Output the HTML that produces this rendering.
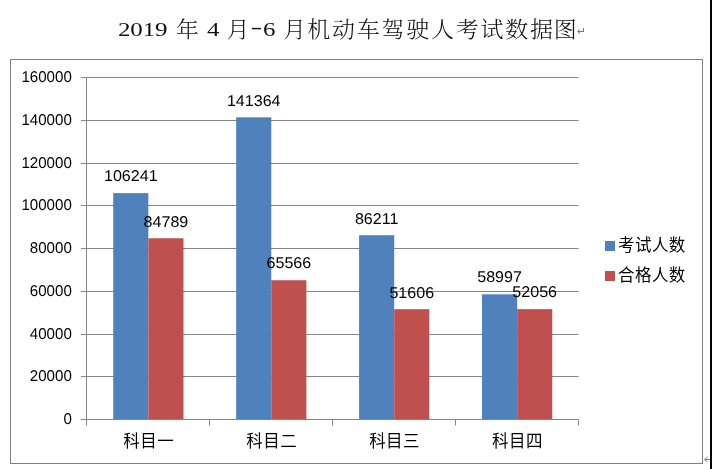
<!DOCTYPE html>
<html lang="zh-CN"><head><meta charset="utf-8"><title>2019年4月-6月机动车驾驶人考试数据图</title>
<style>
html,body{margin:0;padding:0;background:#fff;}
body{width:712px;height:469px;overflow:hidden;position:relative;}
svg{position:absolute;left:0;top:0;display:block;}
.num{font-family:"Liberation Sans","DejaVu Sans",sans-serif;font-size:15.6px;fill:#000;text-rendering:geometricPrecision;}
.cjk{font-family:"Liberation Sans","Noto Sans CJK SC","WenQuanYi Zen Hei",sans-serif;font-size:16.5px;fill:#000;letter-spacing:0.45px;}
.title{position:absolute;left:0;top:0;width:712px;height:56px;margin:0;font-weight:300;color:#111;
 font-family:"Liberation Serif","Noto Serif CJK SC",serif;}
.title span{position:absolute;white-space:nowrap;line-height:30px;height:30px;top:13px;}
.title .c{font-size:23px;letter-spacing:1.76px;top:15.3px;transform:scaleY(0.95);transform-origin:0 60%}
.title .h{font-size:19.7px;transform:scaleX(1.8);transform-origin:50% 50%;font-weight:400;top:10.5px}
.title .d{font-size:19.7px;letter-spacing:-0.11px;transform:scaleX(1.27);transform-origin:0 50%;font-weight:400;top:14px}
.title .m{font-family:"DejaVu Sans",sans-serif;font-size:11px;color:#777;top:17px;font-weight:400}
</style></head><body>
<svg width="712" height="469" viewBox="0 0 712 469">
<rect x="0" y="0" width="712" height="469" fill="#fff"/>
<rect x="710" y="0" width="2" height="469" fill="#000"/>
<rect x="10.5" y="59.5" width="692" height="404" fill="#fff" stroke="#7f7f7f" stroke-width="1"/>

<line x1="81" y1="419.50" x2="578.5" y2="419.50" stroke="#868686" stroke-width="1"/>
<text class="num" transform="translate(71.80,424.00) scale(0.968,1)" text-anchor="end">0</text>
<line x1="81" y1="376.50" x2="578.5" y2="376.50" stroke="#868686" stroke-width="1"/>
<text class="num" transform="translate(71.80,381.00) scale(0.968,1)" text-anchor="end">20000</text>
<line x1="81" y1="334.50" x2="578.5" y2="334.50" stroke="#868686" stroke-width="1"/>
<text class="num" transform="translate(71.80,339.00) scale(0.968,1)" text-anchor="end">40000</text>
<line x1="81" y1="291.50" x2="578.5" y2="291.50" stroke="#868686" stroke-width="1"/>
<text class="num" transform="translate(71.80,296.00) scale(0.968,1)" text-anchor="end">60000</text>
<line x1="81" y1="248.50" x2="578.5" y2="248.50" stroke="#868686" stroke-width="1"/>
<text class="num" transform="translate(71.80,253.00) scale(0.968,1)" text-anchor="end">80000</text>
<line x1="81" y1="205.50" x2="578.5" y2="205.50" stroke="#868686" stroke-width="1"/>
<text class="num" transform="translate(71.80,210.00) scale(0.968,1)" text-anchor="end">100000</text>
<line x1="81" y1="163.50" x2="578.5" y2="163.50" stroke="#868686" stroke-width="1"/>
<text class="num" transform="translate(71.80,168.00) scale(0.968,1)" text-anchor="end">120000</text>
<line x1="81" y1="120.50" x2="578.5" y2="120.50" stroke="#868686" stroke-width="1"/>
<text class="num" transform="translate(71.80,125.00) scale(0.968,1)" text-anchor="end">140000</text>
<line x1="81" y1="77.50" x2="578.5" y2="77.50" stroke="#868686" stroke-width="1"/>
<text class="num" transform="translate(71.80,82.00) scale(0.968,1)" text-anchor="end">160000</text>
<line x1="86.5" y1="77.00" x2="86.5" y2="425.5" stroke="#868686" stroke-width="1"/>
<line x1="209.50" y1="419.5" x2="209.50" y2="425.5" stroke="#868686" stroke-width="1"/>
<line x1="332.50" y1="419.5" x2="332.50" y2="425.5" stroke="#868686" stroke-width="1"/>
<line x1="455.50" y1="419.5" x2="455.50" y2="425.5" stroke="#868686" stroke-width="1"/>
<line x1="578.50" y1="419.5" x2="578.50" y2="425.5" stroke="#868686" stroke-width="1"/>
<rect x="113.24" y="193.11" width="35.12" height="226.39" fill="#4F81BD"/>
<rect x="148.36" y="238.26" width="35.12" height="181.24" fill="#C0504D"/>
<rect x="236.17" y="117.33" width="35.12" height="302.17" fill="#4F81BD"/>
<rect x="271.29" y="280.25" width="35.12" height="139.25" fill="#C0504D"/>
<rect x="359.09" y="235.22" width="35.12" height="184.28" fill="#4F81BD"/>
<rect x="394.21" y="309.19" width="35.12" height="110.31" fill="#C0504D"/>
<rect x="482.02" y="294.29" width="35.12" height="125.21" fill="#4F81BD"/>
<rect x="517.14" y="309.13" width="35.12" height="110.37" fill="#C0504D"/>
<line x1="81" y1="419.5" x2="578.5" y2="419.5" stroke="#868686" stroke-width="1"/>
<text class="num" transform="translate(130.80,180.81) scale(1.03,1)" text-anchor="middle">106241</text>
<text class="num" transform="translate(165.92,226.66) scale(1.03,1)" text-anchor="middle">84789</text>
<text class="cjk" x="148.76" y="447.3" text-anchor="middle">科目一</text>
<text class="num" transform="translate(253.73,105.73) scale(1.03,1)" text-anchor="middle">141364</text>
<text class="num" transform="translate(288.85,267.75) scale(1.03,1)" text-anchor="middle">65566</text>
<text class="cjk" x="271.69" y="447.3" text-anchor="middle">科目二</text>
<text class="num" transform="translate(376.65,223.62) scale(1.03,1)" text-anchor="middle">86211</text>
<text class="num" transform="translate(411.77,297.59) scale(1.03,1)" text-anchor="middle">51606</text>
<text class="cjk" x="394.61" y="447.3" text-anchor="middle">科目三</text>
<text class="num" transform="translate(499.58,281.79) scale(1.03,1)" text-anchor="middle">58997</text>
<text class="num" transform="translate(534.70,296.63) scale(1.03,1)" text-anchor="middle">52056</text>
<text class="cjk" x="517.54" y="447.3" text-anchor="middle">科目四</text>
<rect x="605" y="241" width="10" height="10" fill="#4F81BD"/>
<rect x="605" y="271" width="10" height="10" fill="#C0504D"/>
<text class="cjk" x="618" y="251">考试人数</text>
<text class="cjk" x="618" y="281">合格人数</text>
<path d="M710 459.5H704.8M707.6 457L704.6 459.5L707.6 462" fill="none" stroke="#6e6e6e" stroke-width="0.9"/>
</svg>
<h1 class="title"><span class="d" style="left:118.22px">2019</span><span class="c" style="left:176.10px">年</span><span class="d" style="left:207.26px">4</span><span class="c" style="left:226.40px">月</span><span class="h" style="left:252.7px">-</span><span class="d" style="left:262.56px">6</span><span class="c" style="left:283.00px">月</span><span class="c" style="left:307.20px">机动车驾驶人考试数据</span><span class="c" style="left:553.80px">图</span><span class="m" style="left:577px">↵</span></h1>
</body></html>
